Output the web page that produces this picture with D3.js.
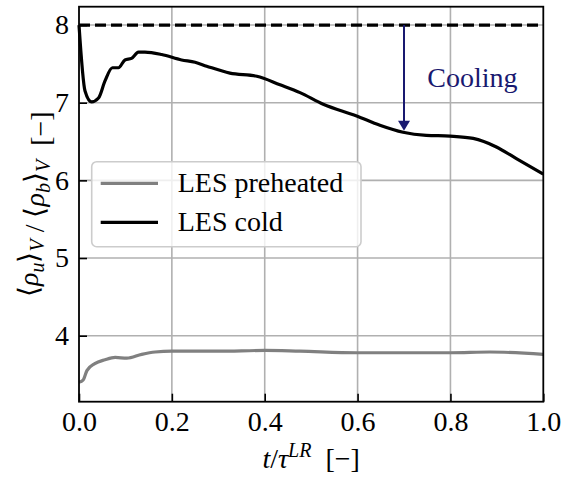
<!DOCTYPE html>
<html>
<head>
<meta charset="utf-8">
<script src="https://cdn.jsdelivr.net/npm/d3@7"></script>
<style>
  body { margin: 0; background: #fff; }
</style>
</head>
<body>
<div id="chart"></div>
<script>
const tCold = [0, 0.013, 0.027, 0.042, 0.056, 0.072, 0.085, 0.099, 0.113, 0.128, 0.142, 0.178, 0.221, 0.25, 0.275, 0.325, 0.383, 0.433, 0.476, 0.526, 0.598, 0.648, 0.698, 0.748, 0.799, 0.849, 0.899, 0.942, 1.0];
const rhoCold = [8.0, 7.15, 7.01, 7.06, 7.28, 7.45, 7.45, 7.55, 7.57, 7.65, 7.65, 7.62, 7.55, 7.52, 7.47, 7.38, 7.34, 7.23, 7.13, 6.98, 6.83, 6.71, 6.62, 6.58, 6.57, 6.54, 6.43, 6.28, 6.08];

const tHot = [0, 0.009, 0.017, 0.034, 0.056, 0.078, 0.103, 0.135, 0.164, 0.2, 0.3, 0.4, 0.476, 0.598, 0.7, 0.8, 0.885, 1.0];
const rhoHot = [3.40, 3.43, 3.55, 3.64, 3.69, 3.72, 3.71, 3.76, 3.79, 3.80, 3.80, 3.81, 3.80, 3.78, 3.78, 3.78, 3.79, 3.76];

const xTicks = [0, 0.2, 0.4, 0.6, 0.8, 1.0];
const yTicks = [4, 5, 6, 7, 8];
const refLevel = 8;
const series = ["LES preheated", "LES cold"];
const colors = ["#808080", "#000000"];

const width = 563, height = 479;
const margin = { top: 6.7, right: 19.7, bottom: 77.3, left: 79 };
const fs = 28;
const serif = "Liberation Serif";

const svg = d3.select("#chart").append("svg")
  .attr("width", width)
  .attr("height", height);

const x = d3.scaleLinear().domain([0, 1]).range([margin.left, width - margin.right]);
const y = d3.scaleLinear().domain([3.15, 8.236]).range([height - margin.bottom, margin.top]);

// grid
svg.append("g").selectAll("line").data(xTicks.slice(1, -1)).join("line")
  .attr("x1", d => x(d)).attr("x2", d => x(d))
  .attr("y1", y.range()[0]).attr("y2", y.range()[1])
  .attr("stroke", "#b0b0b0").attr("stroke-width", 1.6);
svg.append("g").selectAll("line").data(yTicks).join("line")
  .attr("x1", x.range()[0]).attr("x2", x.range()[1])
  .attr("y1", d => y(d)).attr("y2", d => y(d))
  .attr("stroke", "#b0b0b0").attr("stroke-width", 1.6);

// reference line
svg.append("line")
  .attr("x1", x(0)).attr("x2", x(1))
  .attr("y1", y(refLevel)).attr("y2", y(refLevel))
  .attr("stroke", "#000").attr("stroke-width", 3.2)
  .attr("stroke-dasharray", "11,5");

const line = d3.line().x(d => x(d[0])).y(d => y(d[1])).curve(d3.curveMonotoneX);

svg.append("path")
  .datum(tHot.map((t, i) => [t, rhoHot[i]]))
  .attr("d", line).attr("fill", "none")
  .attr("stroke", colors[0]).attr("stroke-width", 3.2)
  .attr("stroke-linejoin", "round");

svg.append("path")
  .datum(tCold.map((t, i) => [t, rhoCold[i]]))
  .attr("d", line).attr("fill", "none")
  .attr("stroke", colors[1]).attr("stroke-width", 3.2)
  .attr("stroke-linejoin", "round");

// cooling arrow
const navy = "#191970";
const tipY = y(6.64);
svg.append("line")
  .attr("x1", x(0.7)).attr("x2", x(0.7))
  .attr("y1", y(refLevel)).attr("y2", tipY - 8)
  .attr("stroke", navy).attr("stroke-width", 2);
svg.append("path")
  .attr("d", `M${x(0.7) - 6},${tipY - 10}L${x(0.7) + 6},${tipY - 10}L${x(0.7)},${tipY}Z`)
  .attr("fill", navy);
svg.append("text")
  .attr("x", x(0.75)).attr("y", y(7.2))
  .attr("font-size", fs).attr("fill", navy)
  .text("Cooling");

// axes
svg.append("g")
  .attr("transform", `translate(0,${y.range()[0]})`)
  .call(d3.axisBottom(x).tickValues(xTicks).tickFormat(d3.format(".1f"))
    .tickSizeInner(-8).tickSizeOuter(0).tickPadding(9))
  .call(g => g.select(".domain").remove())
  .call(g => g.selectAll("line").attr("stroke-width", 1.6))
  .call(g => g.selectAll("text").attr("font-size", fs).attr("fill", "#000"));

svg.append("g")
  .attr("transform", `translate(${x.range()[0]},0)`)
  .call(d3.axisLeft(y).tickValues(yTicks).tickFormat(d3.format("d"))
    .tickSizeInner(-8).tickSizeOuter(0).tickPadding(10))
  .call(g => g.select(".domain").remove())
  .call(g => g.selectAll("line").attr("stroke-width", 1.6))
  .call(g => g.selectAll("text").attr("font-size", fs).attr("fill", "#000"));

svg.append("rect")
  .attr("x", x.range()[0]).attr("y", y.range()[1])
  .attr("width", x.range()[1] - x.range()[0])
  .attr("height", y.range()[0] - y.range()[1])
  .attr("fill", "none").attr("stroke", "#000").attr("stroke-width", 1.8);

// axis labels
const xl = svg.append("text")
  .attr("x", (x.range()[0] + x.range()[1]) / 2).attr("y", 468)
  .attr("text-anchor", "middle").attr("font-size", fs);
xl.append("tspan").attr("font-style", "italic").text("t");
xl.append("tspan").text("/");
xl.append("tspan").attr("font-style", "italic").text("τ");
xl.append("tspan").attr("font-style", "italic").attr("font-size", 20).attr("dy", -11).text("LR");
xl.append("tspan").attr("dy", 11).text("\u2002[−]");

const yl = svg.append("text")
  .attr("transform", `translate(38,${(y.range()[0] + y.range()[1]) / 2}) rotate(-90)`)
  .attr("text-anchor", "middle").attr("font-size", fs);
function rhoPart(sub) {
  yl.append("tspan").text("⟨");
  yl.append("tspan").attr("font-style", "italic").text("ρ");
  yl.append("tspan").attr("font-style", "italic").attr("font-size", 20).attr("dy", 6).text(sub);
  yl.append("tspan").attr("dy", -6).text("⟩");
  yl.append("tspan").attr("font-style", "italic").attr("font-size", 20).attr("dy", 6).text("V");
  yl.append("tspan").attr("dy", -6).text("");
}
rhoPart("u");
yl.append("tspan").text(" / ");
rhoPart("b");
yl.append("tspan").text("\u2002[−]");

// legend
const lg = svg.append("g");
lg.append("rect")
  .attr("x", 91.7).attr("y", 161.7).attr("width", 269.3).attr("height", 85)
  .attr("rx", 5)
  .attr("fill", "#fff").attr("fill-opacity", 0.8)
  .attr("stroke", "#cccccc").attr("stroke-width", 1.6);
series.forEach((s, i) => {
  const ly = 183.3 + i * 39;
  lg.append("line")
    .attr("x1", 100.7).attr("x2", 158)
    .attr("y1", ly).attr("y2", ly)
    .attr("stroke", colors[i]).attr("stroke-width", 3.2);
  lg.append("text")
    .attr("x", 177.7).attr("y", ly + 8.5)
    .attr("font-size", fs).text(s);
});

// serif font on every text, set inline
svg.selectAll("text").style("font-family", serif);
</script>
</body>
</html>
